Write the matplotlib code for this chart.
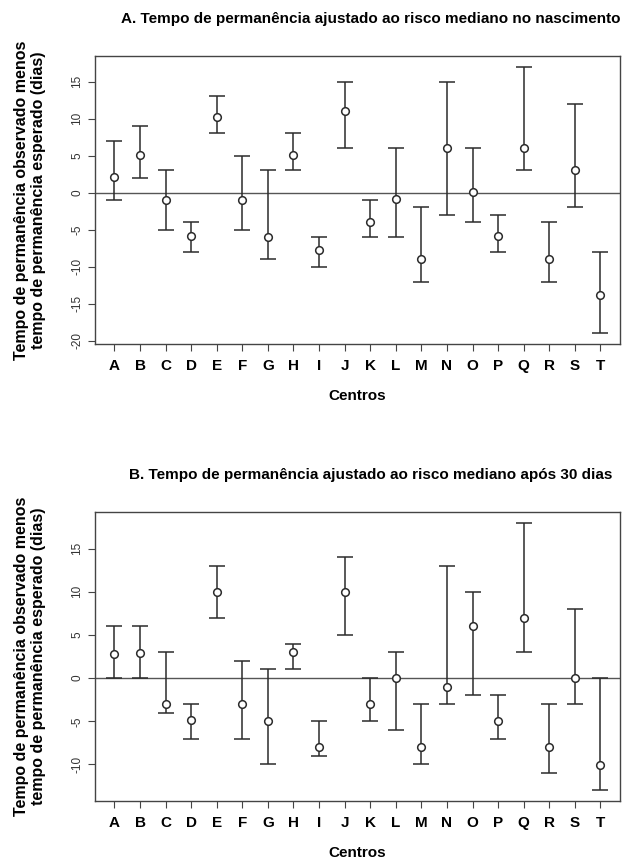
import numpy as np
import matplotlib
matplotlib.use("Agg")
import matplotlib.pyplot as plt

plt.rcParams["font.family"] = ["Liberation Sans", "DejaVu Sans"]

centros = list("ABCDEFGHIJKLMNOPQRST")

# Painel A - no nascimento
a_est = [2.1, 5.1, -1.0, -5.8, 10.2, -1.0, -6.0, 5.1, -7.8, 11.0,
         -3.9, -0.9, -8.9, 6.0, 0.1, -5.9, 6.0, -8.9, 3.0, -13.8]
a_low = [-1, 2, -5, -8, 8, -5, -9, 3, -10, 6,
         -6, -6, -12, -3, -4, -8, 3, -12, -2, -19]
a_high = [7, 9, 3, -4, 13, 5, 3, 8, -6, 15,
          -1, 6, -2, 15, 6, -3, 17, -4, 12, -8]

# Painel B - após 30 dias
b_est = [2.8, 2.9, -3.0, -4.9, 10.0, -3.0, -5.0, 3.0, -8.0, 10.0,
         -3.0, 0.0, -8.0, -1.0, 6.0, -5.0, 7.0, -8.0, 0.0, -10.1]
b_low = [0, 0, -4, -7, 7, -7, -10, 1, -9, 5,
         -5, -6, -10, -3, -2, -7, 3, -11, -3, -13]
b_high = [6, 6, 3, -3, 13, 2, 1, 4, -5, 14,
          0, 3, -3, 13, 10, -2, 18, -3, 8, 0]

titulos = ["A. Tempo de permanência ajustado ao risco mediano no nascimento",
           "B. Tempo de permanência ajustado ao risco mediano após 30 dias"]
ylab = "Tempo de permanência observado menos\ntempo de permanência esperado (dias)"

fig = plt.figure(figsize=(6.44, 8.58), dpi=100)
ax_a = fig.add_axes([0.1475, 0.599, 0.815, 0.3357])
ax_b = fig.add_axes([0.1475, 0.0664, 0.815, 0.3368])

cor = "#2b2b2b"
paineis = [(ax_a, a_est, a_low, a_high, np.arange(-20, 16, 5)),
           (ax_b, b_est, b_low, b_high, np.arange(-10, 16, 5))]

for i, (ax, est, low, high, yt) in enumerate(paineis):
    x = np.arange(1, 21)
    est = np.array(est)
    err = [est - np.array(low), np.array(high) - est]
    ax.axhline(0, color="#555555", lw=1.0, zorder=1)
    ax.errorbar(x, est, yerr=err, fmt="o", ms=5.5, mfc="white", mec=cor,
                mew=1.1, ecolor=cor, elinewidth=1.1, capsize=6, capthick=1.1,
                zorder=3)
    lo, hi = min(low), max(high)
    pad = (hi - lo) * 0.04
    ax.set_ylim(lo - pad, hi + pad)
    ax.set_xlim(0.24, 20.76)
    ax.set_xticks(x)
    ax.set_xticklabels(centros, fontweight="bold", fontsize=11)
    ax.set_yticks(yt)
    ax.set_yticklabels([str(v) for v in yt], rotation=90, va="center",
                       fontsize=8.5, color="#333333")
    ax.tick_params(axis="both", direction="out", length=5, width=0.8,
                   color="#444444")
    ax.tick_params(axis="x", pad=6)
    for s in ax.spines.values():
        s.set_color("#444444")
        s.set_linewidth(1.0)
    ax.set_xlabel("Centros", fontweight="bold", fontsize=11, labelpad=11)
    ax.set_ylabel(ylab, fontweight="bold", fontsize=11.5, labelpad=18)
    ax.set_title(titulos[i], fontweight="bold", fontsize=11, pad=24,
                 x=0.526)

fig.savefig("out.png", dpi=100)
